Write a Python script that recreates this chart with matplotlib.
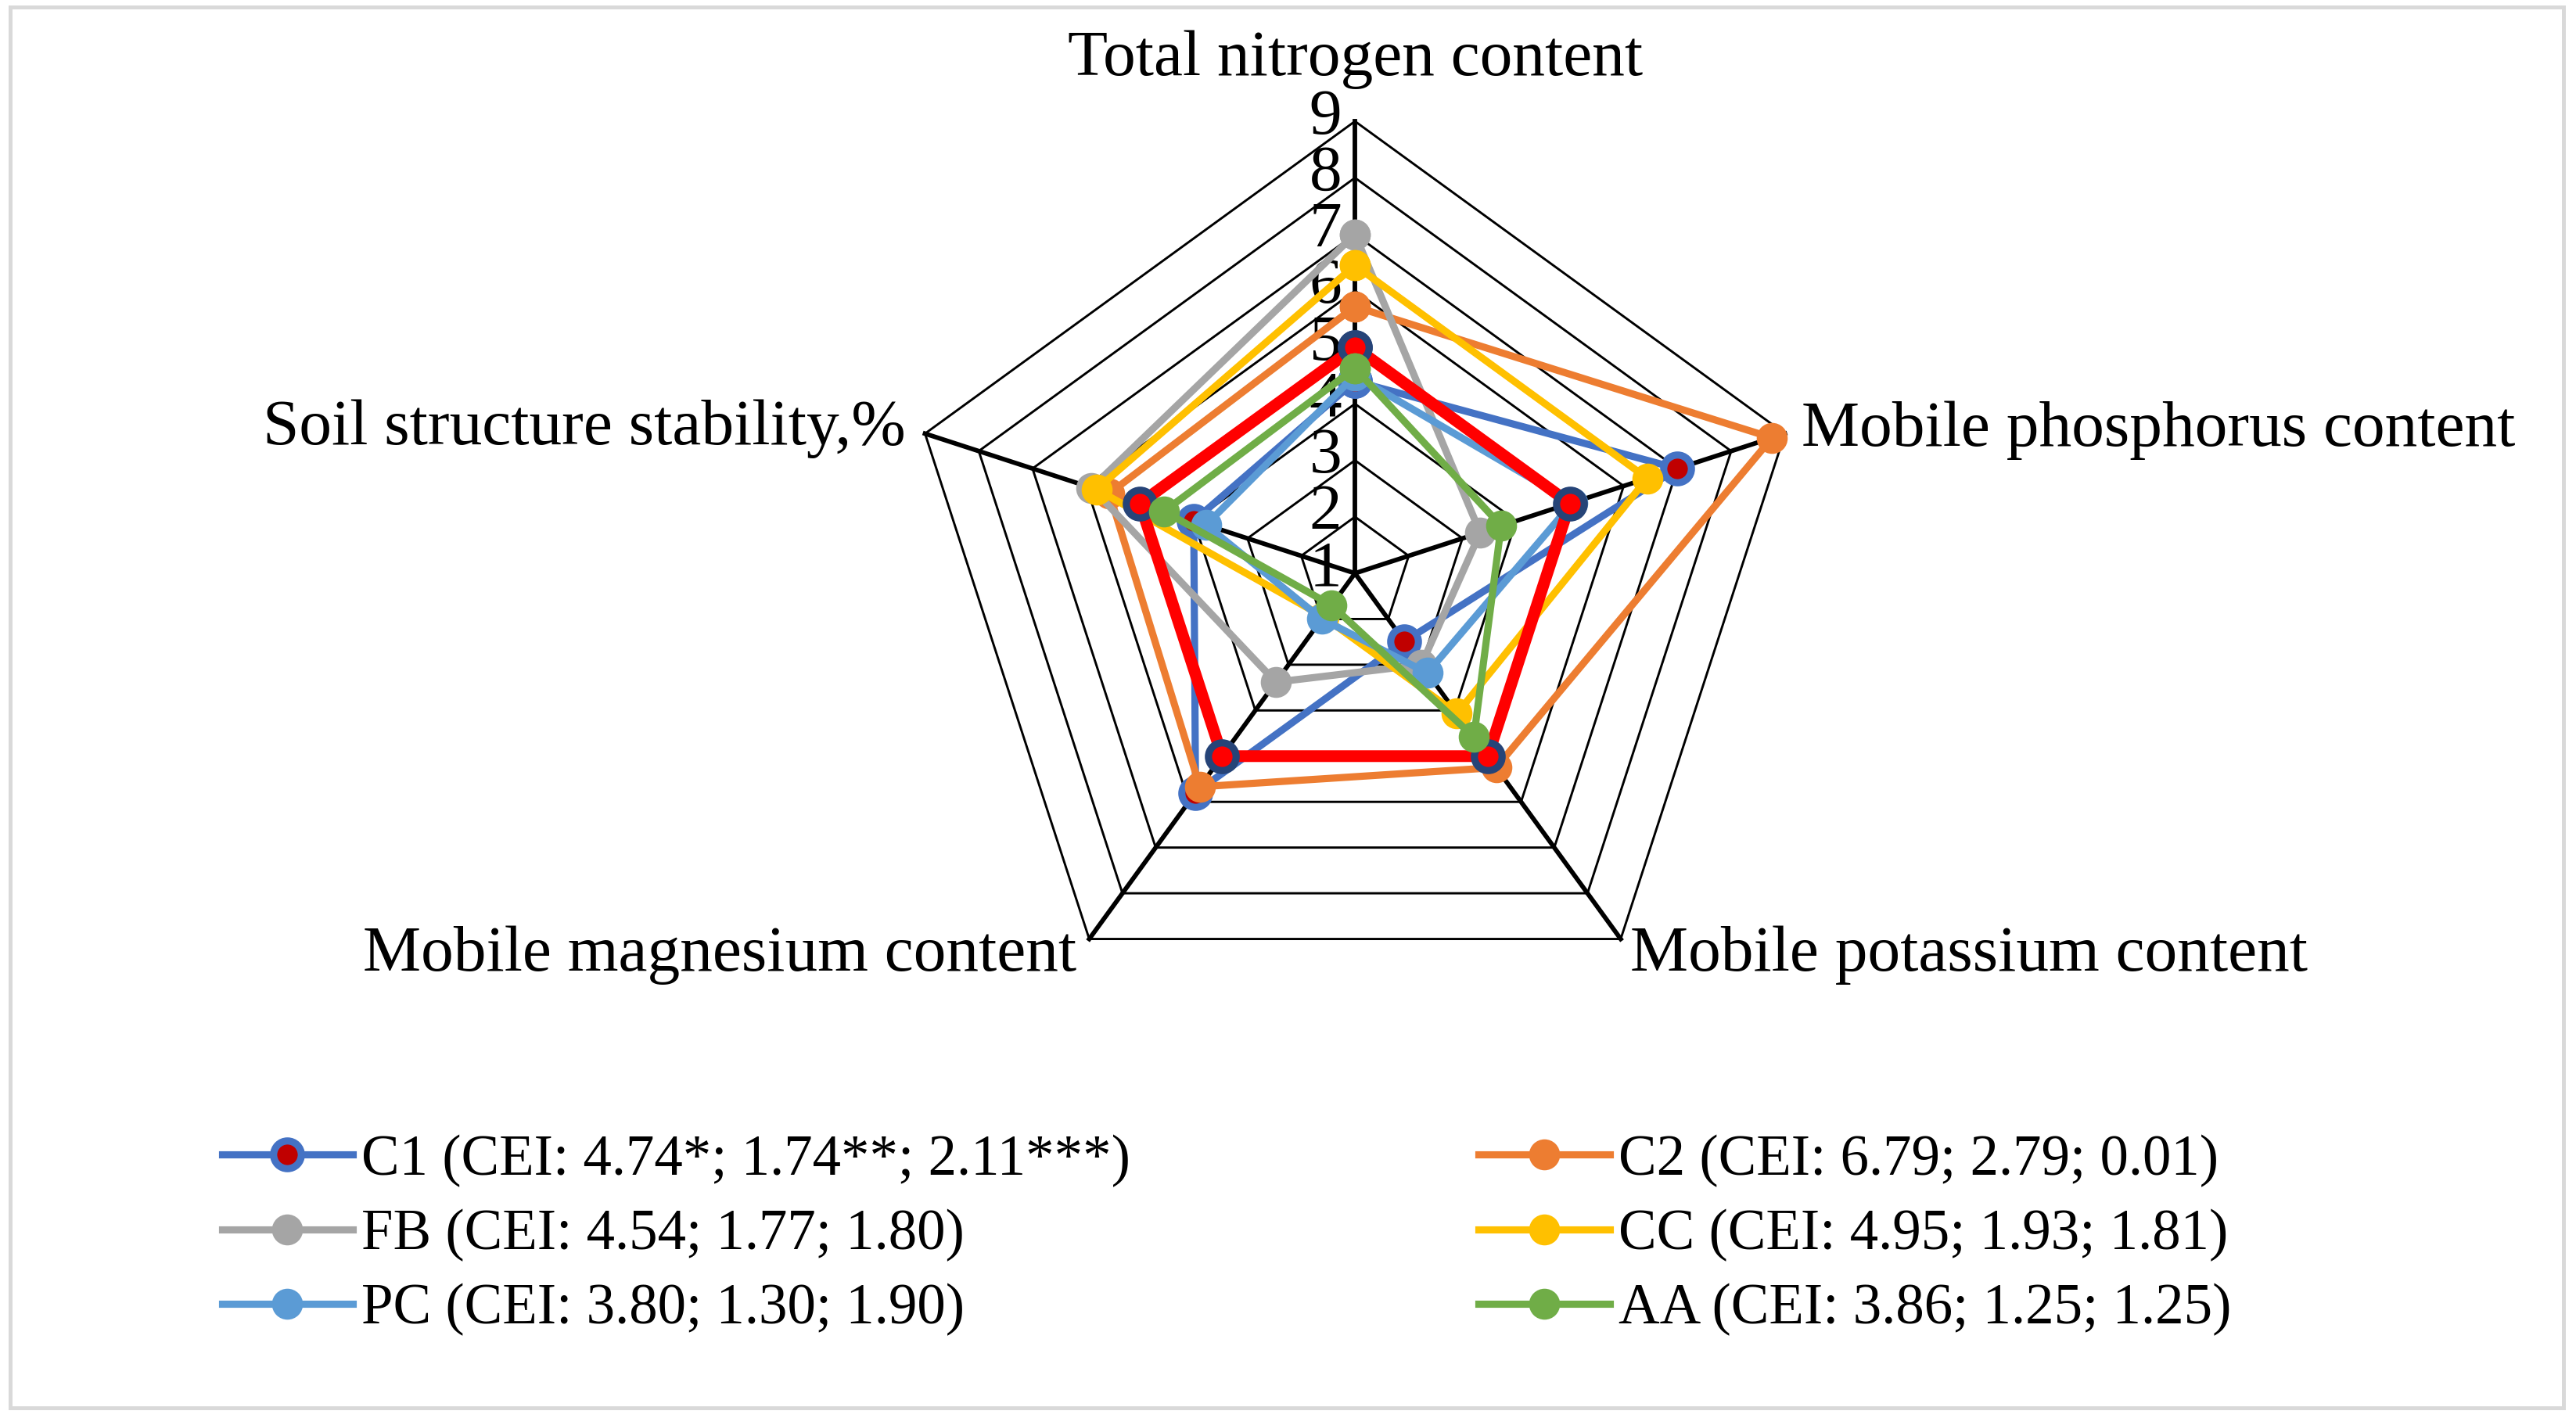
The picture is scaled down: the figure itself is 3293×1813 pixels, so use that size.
import numpy as np
import matplotlib as mpl
mpl.use('Agg')
from matplotlib import pyplot as plt
from matplotlib.patches import Rectangle

plt.rcParams['font.family'] = ['Liberation Serif', 'DejaVu Serif']

# axes of the radar, clockwise from the top
categories = ['Total nitrogen content', 'Mobile phosphorus content',
              'Mobile potassium content', 'Mobile magnesium content',
              'Soil structure stability,%']

c1 = [4.4, 7.0, 2.49, 5.8, 4.0]
c2 = [5.72, 8.76, 5.25, 5.67, 5.57]
fb = [7.0, 3.33, 3.0, 3.38, 5.9]
cc = [6.45, 6.44, 4.07, 1.95, 5.81]
pc = [4.5, 5.05, 3.18, 2.0, 3.77]
aa = [4.63, 3.72, 4.58, 1.7, 4.55]
base = [5, 5, 5, 5, 5]   # thick red reference polygon (not in legend)

labels = ['C1 (CEI: 4.74*; 1.74**; 2.11***)', 'C2 (CEI: 6.79; 2.79; 0.01)',
          'FB (CEI: 4.54; 1.77; 1.80)', 'CC (CEI: 4.95; 1.93; 1.81)',
          'PC (CEI: 3.80; 1.30; 1.90)', 'AA (CEI: 3.86; 1.25; 1.25)']
rticks = list(range(1, 10))

FS = 20     # axis text
LFS = 17.5  # legend text
n = len(categories)
theta = np.linspace(0, 2 * np.pi, n, endpoint=False)
th = np.append(theta, theta[0])

def closed(v):
    return list(v) + [v[0]]

fig = plt.figure(figsize=(3293 / 300, 1813 / 300), dpi=300)
ax = fig.add_axes([0.3505, 0.2769, 0.351, 0.6376], projection='polar')
ax.set_theta_offset(np.pi / 2)
ax.set_theta_direction(-1)
ax.set_ylim(rticks[0], rticks[-1])
ax.set_xticks([])
ax.set_yticks([])
ax.grid(False)
ax.spines['polar'].set_visible(False)
ax.patch.set_visible(False)

# pentagon grid
for r in rticks[1:]:
    ax.plot(th, [r] * (n + 1), color='black', lw=0.7, zorder=1, clip_on=False)
for t in theta:
    ax.plot([t, t], [rticks[0], rticks[-1]], color='black', lw=1.4, zorder=1,
            clip_on=False)

for r in rticks:
    ax.annotate(str(r), xy=(0, r), xytext=(-4, 1), textcoords='offset points',
                ha='right', va='center', fontsize=FS, zorder=2)

# category labels
offs = [(0, 19, 'center', 'center'), (5, 1, 'left', 'center'),
        (3, -5, 'left', 'center'), (-4, -5, 'right', 'center'),
        (-6, 1.5, 'right', 'center')]
for t, name, (dx, dy, ha, va) in zip(theta, categories, offs):
    ax.annotate(name, xy=(t, rticks[-1]), xytext=(dx, dy),
                textcoords='offset points', ha=ha, va=va, fontsize=FS)

lw, ms = 2.2, 8.5
h_c1, = ax.plot(th, closed(c1), color='#4472C4', lw=lw, marker='o', ms=ms,
                mfc='#C00000', mec='#4472C4', mew=2.2, zorder=3, clip_on=False)
h_c2, = ax.plot(th, closed(c2), color='#ED7D31', lw=lw, marker='o', ms=ms,
                zorder=3, clip_on=False)
h_fb, = ax.plot(th, closed(fb), color='#A5A5A5', lw=lw, marker='o', ms=ms,
                zorder=3, clip_on=False)
h_cc, = ax.plot(th, closed(cc), color='#FFC000', lw=lw, marker='o', ms=ms,
                zorder=3, clip_on=False)
h_pc, = ax.plot(th, closed(pc), color='#5B9BD5', lw=lw, marker='o', ms=ms,
                zorder=3, clip_on=False)
ax.plot(th, closed(base), color='#FF0000', lw=3.6, marker='o', ms=ms,
        mfc='#FF0000', mec='#264478', mew=2.2, zorder=3, clip_on=False)
h_aa, = ax.plot(th, closed(aa), color='#70AD47', lw=lw, marker='o', ms=ms,
                zorder=3, clip_on=False)

leg_kw = dict(loc='upper left', frameon=False, fontsize=LFS, borderpad=0,
              borderaxespad=0, handlelength=2.3, handletextpad=0.15,
              labelspacing=0.38)
fig.legend([h_c1, h_fb, h_pc], [labels[0], labels[2], labels[4]],
           bbox_to_anchor=(0.0861, 0.2), **leg_kw)
fig.legend([h_c2, h_cc, h_aa], [labels[1], labels[3], labels[5]],
           bbox_to_anchor=(0.574, 0.2), **leg_kw)

fig.add_artist(Rectangle((0.004, 0.007), 0.991, 0.988, transform=fig.transFigure,
                         fill=False, edgecolor='#D9D9D9', lw=1.2))

fig.savefig('out.png', dpi=300)
